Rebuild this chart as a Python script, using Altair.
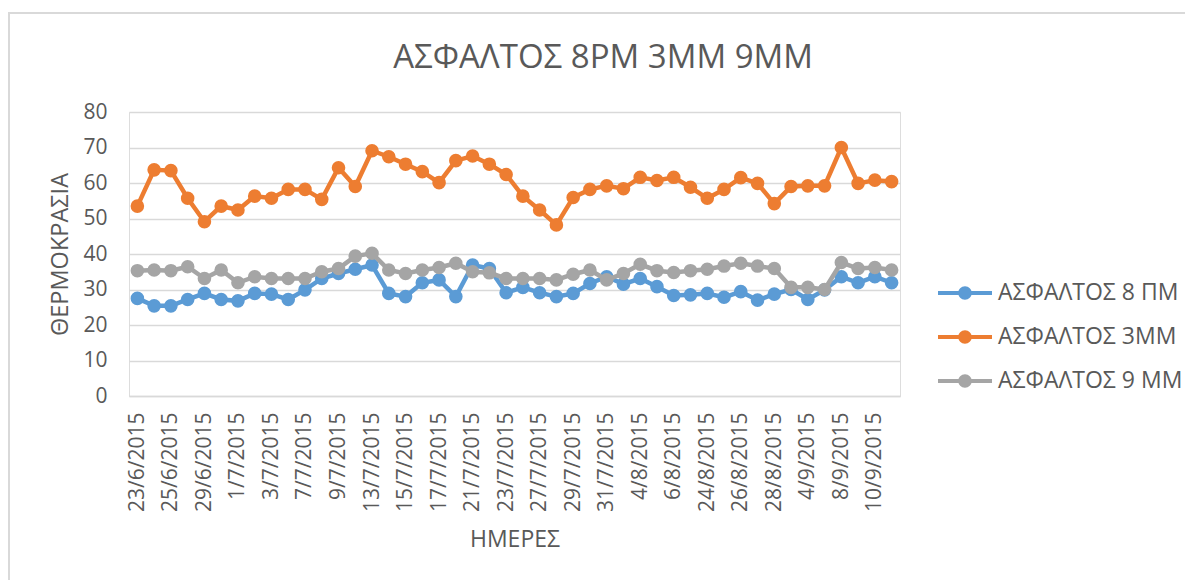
import altair as alt
import pandas as pd

dates = ["23/6/2015", "24/6/2015", "25/6/2015", "26/6/2015", "29/6/2015", "30/6/2015",
         "1/7/2015", "2/7/2015", "3/7/2015", "6/7/2015", "7/7/2015", "8/7/2015",
         "9/7/2015", "10/7/2015", "13/7/2015", "14/7/2015", "15/7/2015", "16/7/2015",
         "17/7/2015", "20/7/2015", "21/7/2015", "22/7/2015", "23/7/2015", "24/7/2015",
         "27/7/2015", "28/7/2015", "29/7/2015", "30/7/2015", "31/7/2015", "3/8/2015",
         "4/8/2015", "5/8/2015", "6/8/2015", "7/8/2015", "24/8/2015", "25/8/2015",
         "26/8/2015", "27/8/2015", "28/8/2015", "3/9/2015", "4/9/2015", "7/9/2015",
         "8/9/2015", "9/9/2015", "10/9/2015", "11/9/2015"]

series_names = ["ΑΣΦΑΛΤΟΣ 8 ΠΜ", "ΑΣΦΑΛΤΟΣ 3ΜΜ", "ΑΣΦΑΛΤΟΣ 9 ΜΜ"]
series_colors = ["#5B9BD5", "#ED7D31", "#A5A5A5"]

asphalt_8pm = [27.5, 25.4, 25.4, 27.2, 28.9, 27.2, 26.8, 28.9, 28.7, 27.2, 29.9, 33.1,
               34.5, 35.7, 36.9, 28.9, 28.0, 31.9, 32.7, 28.0, 36.9, 35.9, 29.1, 30.6,
               29.1, 28.0, 28.9, 31.7, 33.6, 31.5, 33.1, 30.8, 28.3, 28.5, 28.9, 27.8,
               29.4, 27.0, 28.7, 30.0, 27.2, 29.9, 33.6, 31.9, 33.6, 31.9]

asphalt_3mm = [53.5, 63.7, 63.5, 55.7, 49.1, 53.5, 52.4, 56.3, 55.7, 58.2, 58.2, 55.4,
               64.3, 59.0, 69.1, 67.4, 65.3, 63.2, 60.1, 66.3, 67.6, 65.3, 62.4, 56.3,
               52.4, 48.2, 55.9, 58.2, 59.2, 58.4, 61.6, 60.7, 61.6, 58.8, 55.7, 58.2,
               61.5, 59.9, 54.2, 59.0, 59.2, 59.2, 70.0, 59.9, 60.8, 60.4]

asphalt_9mm = [35.3, 35.5, 35.3, 36.4, 33.1, 35.5, 31.9, 33.6, 33.1, 33.1, 33.1, 35.0,
               35.9, 39.4, 40.2, 35.5, 34.5, 35.5, 36.2, 37.4, 35.0, 34.7, 33.1, 33.1,
               33.1, 32.7, 34.3, 35.5, 32.7, 34.5, 37.1, 35.3, 34.8, 35.3, 35.7, 36.6,
               37.4, 36.6, 35.9, 30.6, 30.6, 30.0, 37.6, 35.9, 36.2, 35.5]

y_ticks = [0, 10, 20, 30, 40, 50, 60, 70, 80]
chart_title = "ΑΣΦΑΛΤΟΣ 8PM 3MM 9MM"

rows = []
for name, vals in zip(series_names, [asphalt_8pm, asphalt_3mm, asphalt_9mm]):
    for d, v in zip(dates, vals):
        rows.append({"series": name, "date": d, "value": v})
df = pd.DataFrame(rows)

FONT = "Open Sans"
GREY_TXT = "#595959"

legend_path = ("M-1,-0.075 L1,-0.075 L1,0.075 L-1,0.075 Z "
               "M-0.25,0 A0.25,0.25 0 1,1 0.25,0 A0.25,0.25 0 1,1 -0.25,0 Z")

color = alt.Color(
    "series:N",
    scale=alt.Scale(domain=series_names, range=series_colors),
    legend=alt.Legend(
        title=None, orient="none", legendX=809, legendY=154,
        symbolType=legend_path, symbolSize=2916, symbolStrokeWidth=0,
        labelFont=FONT, labelFontSize=23, labelColor=GREY_TXT, labelOffset=6,
        rowPadding=5, labelLimit=300,
    ),
)

x_enc = alt.X(
    "date:N", sort=dates,
    scale=alt.Scale(type="point", padding=0.5),
    axis=alt.Axis(title="ΗΜΕΡΕΣ", values=dates[::2], labelAngle=-90, grid=False,
                  ticks=False, domainColor="#d9d9d9", domainWidth=1.5,
                  labelPadding=16, labelFont=FONT, labelFontSize=21, labelColor=GREY_TXT,
                  titleFont=FONT, titleFontSize=23, titleColor=GREY_TXT,
                  titleFontWeight="normal", titlePadding=17),
)
y_enc = alt.Y(
    "value:Q",
    scale=alt.Scale(domain=[0, 80], nice=False),
    axis=alt.Axis(title="ΘΕΡΜΟΚΡΑΣΙΑ", values=y_ticks, domain=False, ticks=False,
                  gridColor="#d9d9d9", gridWidth=1.5, labelPadding=22,
                  labelFont=FONT, labelFontSize=21, labelColor=GREY_TXT,
                  titleFont=FONT, titleFontSize=23.5, titleColor=GREY_TXT,
                  titleFontWeight="normal", titleX=-69, titleBaseline="middle"),
)

layers = []
for name in series_names:
    base = alt.Chart(df).transform_filter(alt.datum.series == name)
    layers.append(base.mark_line(strokeWidth=4.5).encode(x=x_enc, y=y_enc, color=color))
    layers.append(base.mark_point(filled=True, size=185, opacity=1).encode(
        x=x_enc, y=y_enc, color=color))

one = pd.DataFrame({"a": [0]})
border = alt.Chart(one).mark_rect(
    filled=False, stroke="#d9d9d9", strokeWidth=2).encode(
    x=alt.value(-120), y=alt.value(-99), x2=alt.value(1070), y2=alt.value(480))

title = alt.Chart(one).mark_text(
    text=chart_title, font=FONT, fontSize=33, color=GREY_TXT,
    align="center", baseline="middle").encode(
    x=alt.value(474), y=alt.value(-54))

chart = alt.layer(border, title, *layers).properties(
    width=771, height=284,
    autosize=alt.AutoSizeParams(type="none"),
    padding={"left": 129, "top": 112, "right": 285, "bottom": 184},
).configure_view(stroke=None).configure(background="white")

chart.save("out.html", embed_options={"renderer": "svg", "actions": False})
